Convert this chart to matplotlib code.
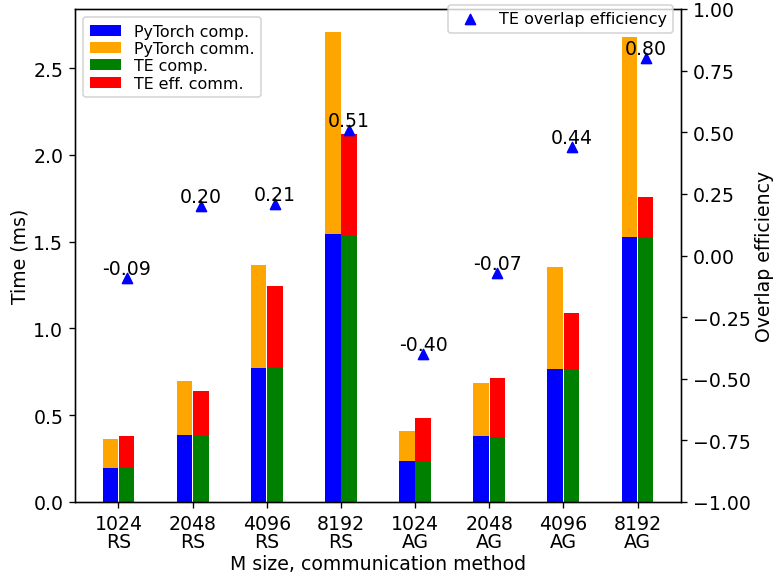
import matplotlib
matplotlib.use("Agg")
import matplotlib.pyplot as plt
import numpy as np

sizes = ["1024", "2048", "4096", "8192", "1024", "2048", "4096", "8192"]
methods = ["RS", "RS", "RS", "RS", "AG", "AG", "AG", "AG"]
pt_comp = [0.194, 0.388, 0.774, 1.543, 0.238, 0.382, 0.764, 1.527]
pt_total = [0.362, 0.699, 1.368, 2.706, 0.410, 0.687, 1.357, 2.682]
te_comp = [0.194, 0.387, 0.772, 1.540, 0.237, 0.377, 0.760, 1.522]
te_total = [0.379, 0.641, 1.247, 2.121, 0.485, 0.716, 1.091, 1.759]
efficiency = [-0.09, 0.20, 0.21, 0.51, -0.40, -0.07, 0.44, 0.80]

pt_comm = [t - c for t, c in zip(pt_total, pt_comp)]
te_comm = [t - c for t, c in zip(te_total, te_comp)]

plt.rcParams["font.size"] = 11.3

fig = plt.figure(figsize=(6.45, 4.8083), dpi=120)
ax = fig.add_axes([75/774, 74/577, 606/774, 493/577])
x = np.arange(len(sizes))
w = 0.21
off = 0.11
ax.bar(x - off, pt_comp, w, color="blue", label="PyTorch comp.")
ax.bar(x - off, pt_comm, w, bottom=pt_comp, color="orange", label="PyTorch comm.")
ax.bar(x + off, te_comp, w, color="green", label="TE comp.")
ax.bar(x + off, te_comm, w, bottom=te_comp, color="red", label="TE eff. comm.")
ax.set_xticks(x)
ax.set_xticklabels([f"{s}\n{m}" for s, m in zip(sizes, methods)], linespacing=0.95)
ax.set_ylabel("Time (ms)", labelpad=2)
ax.set_xlabel("M size, communication method", labelpad=2)
ax.legend(loc="upper left", fontsize=9.5, labelspacing=0.15,
          bbox_to_anchor=(8.3/606, 1 - 8.3/493), borderaxespad=0)

ax2 = ax.twinx()
ax2.scatter(x + off, efficiency, marker="^", color="blue", label="TE overlap efficiency", zorder=3)
for xi, e in zip(x + off, efficiency):
    ax2.text(xi, e, f"{e:.2f}", ha="center", va="bottom", fontsize=11.3)
ax2.set_ylim(-1, 1)
ax2.set_ylabel("Overlap efficiency", labelpad=2.5)
ax2.legend(loc="upper right", bbox_to_anchor=(0.987, 1.008), borderaxespad=0, fontsize=9.6)

fig.savefig("out.png", dpi=120)
